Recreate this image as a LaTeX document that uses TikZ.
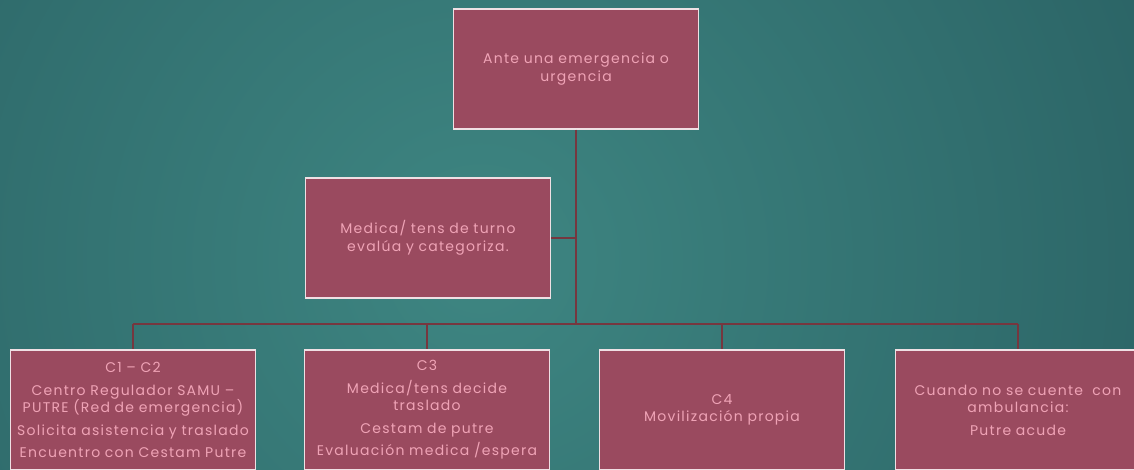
\documentclass[tikz,border=0pt]{standalone}
\usepackage{fontspec}
\setmainfont{Poppins}[LetterSpace=9]
\definecolor{tealdark}{HTML}{24575B}
\definecolor{teallight}{HTML}{3E8682}
\definecolor{boxfill}{HTML}{9A4A5F}
\definecolor{boxline}{HTML}{EFE0E4}
\definecolor{boxtext}{HTML}{EFA3B6}
\definecolor{linkred}{HTML}{76373F}
\tikzset{
  box/.style={draw=boxline, line width=1.5pt, fill=boxfill, text=boxtext,
    minimum width=245pt, minimum height=120pt, text width=243pt,
    align=center, inner sep=0pt, font=\fontsize{14}{17.5}\selectfont},
  link/.style={draw=linkred, line width=2pt}
}
\begin{document}
\begin{tikzpicture}[x=1pt,y=-1pt]
  \useasboundingbox (0,0) rectangle (1134,470);
  \clip (0,0) rectangle (1134,470);
  \fill[tealdark] (0,0) rectangle (1134,470);
  \shade[inner color=teallight, outer color=tealdark] (480,260) circle (1000);
  % boxes
  \node[box] (top) at (576,69) {Ante una emergencia o\\urgencia};
  \node[box] (mid) at (428,238) {Medica/ tens de turno\\evalúa y categoriza.};
  \node[box] (c12) at (133,410) {C1 – C2\\[5pt]Centro Regulador SAMU –\\PUTRE (Red de emergencia)\\[5pt]Solicita asistencia y traslado\\[5pt]Encuentro con Cestam Putre};
  \node[box] (c3) at (427,410) {C3\\[5pt]Medica/tens decide\\traslado\\[5pt]Cestam de putre\\[5pt]Evaluación medica /espera};
  \node[box] (c4) at (722,410) {C4\\Movilización propia};
  \node[box] (amb) at (1018,410) {Cuando no se cuente\ \ con\\ambulancia:\\[5pt]Putre acude};
  % connectors
  \coordinate (bus) at (576,324);
  \draw[link] (top.south) -- (bus);
  \draw[link] (mid.east) -- (mid.east -| top.south);
  \draw[link] (c12.north |- bus) -- (amb.north |- bus);
  \foreach \n in {c12,c3,c4,amb}
    \draw[link] (\n.north |- bus) -- (\n.north);
\end{tikzpicture}
\end{document}
